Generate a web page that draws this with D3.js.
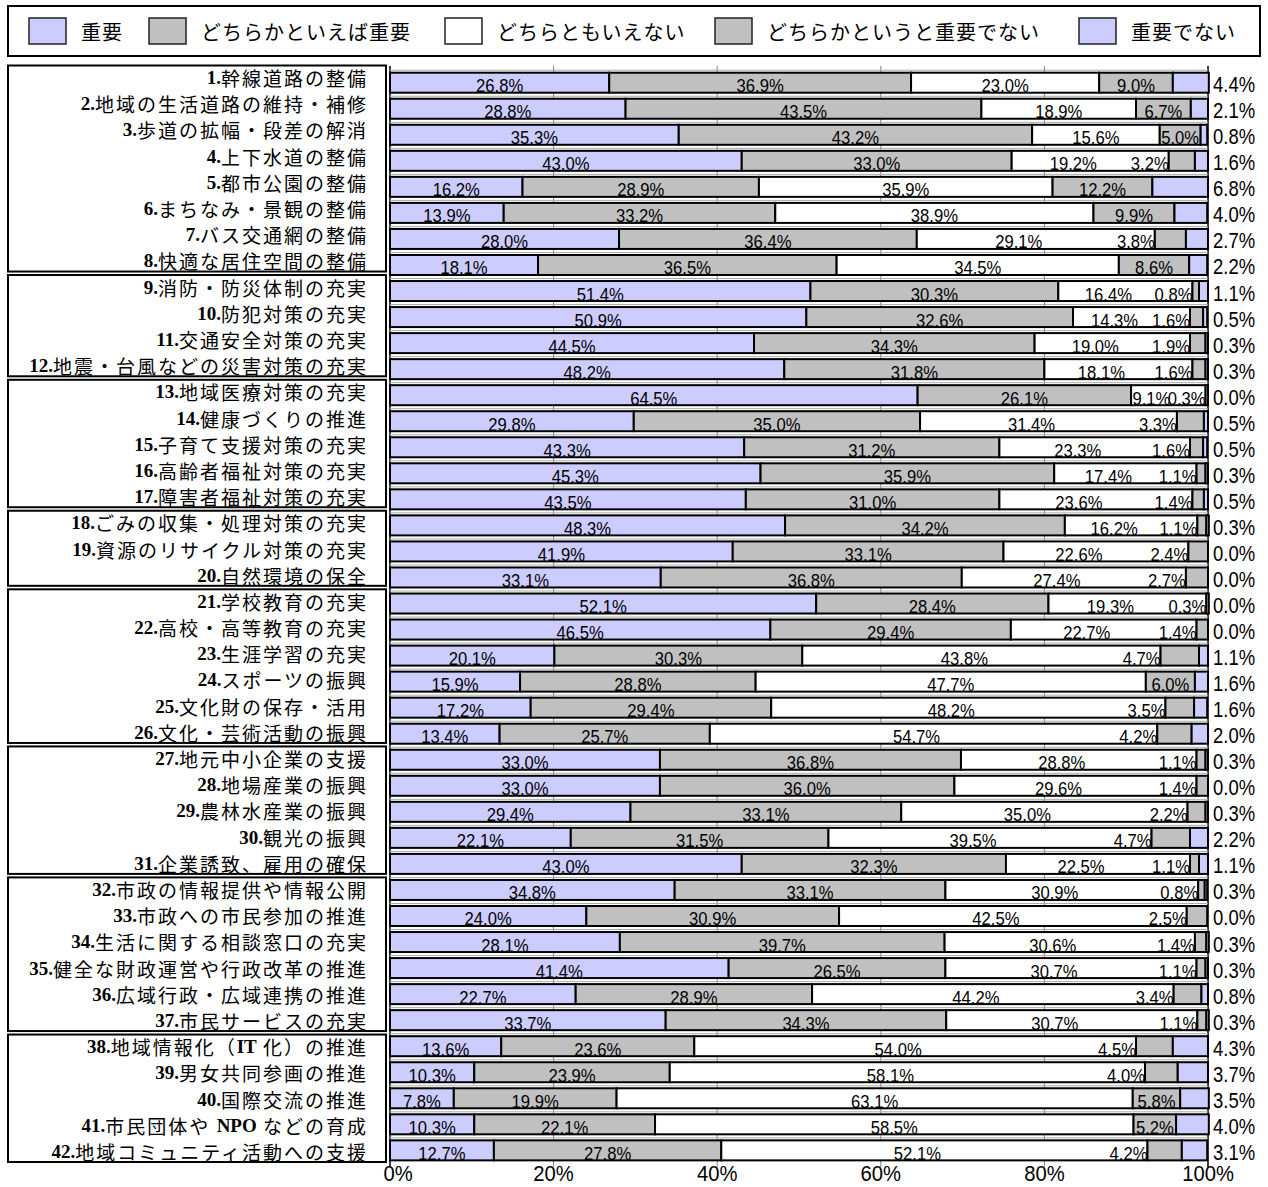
<!DOCTYPE html>
<html>
<head>
<meta charset="utf-8">
<script src="https://cdn.jsdelivr.net/npm/d3@7"></script>
<style>
body { margin: 0; background: #fff; }
svg { display: block; }
</style>
</head>
<body>
<div id="chart"></div>
<script>
// Items (row labels)
const categories = [
    '1.幹線道路の整備', '2.地域の生活道路の維持・補修', '3.歩道の拡幅・段差の解消', '4.上下水道の整備',
    '5.都市公園の整備', '6.まちなみ・景観の整備', '7.バス交通網の整備', '8.快適な居住空間の整備',
    '9.消防・防災体制の充実', '10.防犯対策の充実', '11.交通安全対策の充実', '12.地震・台風などの災害対策の充実',
    '13.地域医療対策の充実', '14.健康づくりの推進', '15.子育て支援対策の充実', '16.高齢者福祉対策の充実',
    '17.障害者福祉対策の充実', '18.ごみの収集・処理対策の充実', '19.資源のリサイクル対策の充実', '20.自然環境の保全',
    '21.学校教育の充実', '22.高校・高等教育の充実', '23.生涯学習の充実', '24.スポーツの振興',
    '25.文化財の保存・活用', '26.文化・芸術活動の振興', '27.地元中小企業の支援', '28.地場産業の振興',
    '29.農林水産業の振興', '30.観光の振興', '31.企業誘致、雇用の確保', '32.市政の情報提供や情報公開',
    '33.市政への市民参加の推進', '34.生活に関する相談窓口の充実', '35.健全な財政運営や行政改革の推進', '36.広域行政・広域連携の推進',
    '37.市民サービスの充実', '38.地域情報化（IT 化）の推進', '39.男女共同参画の推進', '40.国際交流の推進',
    '41.市民団体や NPO などの育成', '42.地域コミュニティ活動への支援'
];

// Series values (%)
const important = [26.8, 28.8, 35.3, 43.0, 16.2, 13.9, 28.0, 18.1, 51.4, 50.9, 44.5, 48.2, 64.5, 29.8,
    43.3, 45.3, 43.5, 48.3, 41.9, 33.1, 52.1, 46.5, 20.1, 15.9, 17.2, 13.4, 33.0, 33.0, 29.4, 22.1,
    43.0, 34.8, 24.0, 28.1, 41.4, 22.7, 33.7, 13.6, 10.3, 7.8, 10.3, 12.7];
const ratherImportant = [36.9, 43.5, 43.2, 33.0, 28.9, 33.2, 36.4, 36.5, 30.3, 32.6, 34.3, 31.8, 26.1, 35.0,
    31.2, 35.9, 31.0, 34.2, 33.1, 36.8, 28.4, 29.4, 30.3, 28.8, 29.4, 25.7, 36.8, 36.0, 33.1, 31.5,
    32.3, 33.1, 30.9, 39.7, 26.5, 28.9, 34.3, 23.6, 23.9, 19.9, 22.1, 27.8];
const neutral = [23.0, 18.9, 15.6, 19.2, 35.9, 38.9, 29.1, 34.5, 16.4, 14.3, 19.0, 18.1, 9.1, 31.4,
    23.3, 17.4, 23.6, 16.2, 22.6, 27.4, 19.3, 22.7, 43.8, 47.7, 48.2, 54.7, 28.8, 29.6, 35.0, 39.5,
    22.5, 30.9, 42.5, 30.6, 30.7, 44.2, 30.7, 54.0, 58.1, 63.1, 58.5, 52.1];
const ratherNotImportant = [9.0, 6.7, 5.0, 3.2, 12.2, 9.9, 3.8, 8.6, 0.8, 1.6, 1.9, 1.6, 0.3, 3.3,
    1.6, 1.1, 1.4, 1.1, 2.4, 2.7, 0.3, 1.4, 4.7, 6.0, 3.5, 4.2, 1.1, 1.4, 2.2, 4.7,
    1.1, 0.8, 2.5, 1.4, 1.1, 3.4, 1.1, 4.5, 4.0, 5.8, 5.2, 4.2];
const notImportant = [4.4, 2.1, 0.8, 1.6, 6.8, 4.0, 2.7, 2.2, 1.1, 0.5, 0.3, 0.3, 0.0, 0.5,
    0.5, 0.3, 0.5, 0.3, 0.0, 0.0, 0.0, 0.0, 1.1, 1.6, 1.6, 2.0, 0.3, 0.0, 0.3, 2.2,
    1.1, 0.3, 0.0, 0.3, 0.3, 0.8, 0.3, 4.3, 3.7, 3.5, 4.0, 3.1];

const seriesNames = ['重要', 'どちらかといえば重要', 'どちらともいえない', 'どちらかというと重要でない', '重要でない'];
const seriesColors = ['#ccccff', '#c0c0c0', '#ffffff', '#c0c0c0', '#ccccff'];
const groupSizes = [8, 4, 5, 3, 6, 5, 6, 5];
const tickValues = [0, 20, 40, 60, 80, 100];

const width = 1268, height = 1187;
const numFont = '"Liberation Sans Narrow", "Arial Narrow", "Liberation Sans", sans-serif';
const jpFont = '"Noto Sans CJK JP", sans-serif';
const serifFont = '"Liberation Serif", "DejaVu Serif", serif';

const svg = d3.select('#chart').append('svg')
    .attr('width', width)
    .attr('height', height);

const n = categories.length;
const x = d3.scaleLinear().domain([0, 100]).range([390, 1208]);
const y = d3.scaleBand().domain(d3.range(n)).range([69.7, 1163.4]);
const yLab = d3.scaleBand().domain(d3.range(n)).range([64, 1164]);
const barH = 20;

const series = [important, ratherImportant, neutral, ratherNotImportant, notImportant];
const rows = d3.range(n).map(i => {
    const r = { i: i };
    series.forEach((s, k) => { r[k] = s[i]; });
    return r;
});
const stacked = d3.stack().keys(d3.range(5))(rows);

// Legend
const legendX = [29, 149, 445, 715, 1079];
svg.append('rect')
    .attr('x', 8).attr('y', 6).attr('width', 1252).attr('height', 50)
    .style('fill', 'none').style('stroke', '#000').style('stroke-width', 2);
const legend = svg.append('g').selectAll('g')
    .data(seriesNames)
    .join('g')
    .attr('transform', (d, k) => `translate(${legendX[k]},18)`);
legend.append('rect')
    .attr('width', 37).attr('height', 26)
    .style('fill', (d, k) => seriesColors[k])
    .style('stroke', '#222').style('stroke-width', 1.5);
legend.append('text')
    .attr('x', 52).attr('y', 13)
    .attr('dominant-baseline', 'central')
    .style('font-family', jpFont).style('font-size', '20px').style('letter-spacing', '1px')
    .text(d => d);

// Group boxes on the left
let start = 0;
groupSizes.forEach(size => {
    const end = start + size - 1;
    svg.append('rect')
        .attr('x', 8)
        .attr('y', yLab(start) + 1.5)
        .attr('width', 378)
        .attr('height', yLab(end) + yLab.bandwidth() - 2 - (yLab(start) + 1.5))
        .style('fill', 'none').style('stroke', '#000').style('stroke-width', 2);
    start += size;
});

// Row labels (numbers / latin in bold serif, japanese in gothic)
const labels = svg.append('g').selectAll('text')
    .data(categories)
    .join('text')
    .attr('x', 368)
    .attr('y', (d, i) => yLab(i) + yLab.bandwidth() / 2)
    .attr('text-anchor', 'end')
    .attr('dominant-baseline', 'central')
    .style('font-size', '19px');
labels.each(function(d) {
    const t = d3.select(this);
    const parts = d.match(/[A-Za-z0-9.]+|[^A-Za-z0-9.]+/g);
    parts.forEach(p => {
        const ascii = /^[A-Za-z0-9.]+$/.test(p);
        t.append('tspan')
            .style('font-family', ascii ? serifFont : jpFont)
            .style('font-weight', ascii ? 'bold' : 'normal')
            .style('letter-spacing', ascii ? '0px' : '2px')
            .text(p);
    });
});

// Gridlines
const grid = svg.append('g');
grid.selectAll('line')
    .data(tickValues)
    .join('line')
    .attr('x1', d => x(d)).attr('x2', d => x(d))
    .attr('y1', 66).attr('y2', 1167)
    .style('stroke', d => (d === 0 || d === 100) ? '#000' : '#808080')
    .style('stroke-width', d => (d === 0 || d === 100) ? 1.5 : 1);

// thin shadow line above each bar
svg.append('g').selectAll('line')
    .data(d3.range(n))
    .join('line')
    .attr('x1', x(0)).attr('x2', x(100))
    .attr('y1', i => y(i) + 0.5).attr('y2', i => y(i) + 0.5)
    .style('stroke', '#aaa').style('stroke-width', 1);

// Bars
const layers = svg.append('g').selectAll('g')
    .data(stacked)
    .join('g')
    .style('fill', d => seriesColors[d.key]);
layers.selectAll('rect')
    .data(d => d)
    .join('rect')
    .attr('x', d => x(d[0]))
    .attr('y', d => y(d.data.i) + 3)
    .attr('width', d => Math.max(0, x(d[1]) - x(d[0])))
    .attr('height', barH)
    .style('stroke', '#000')
    .style('stroke-width', 2);

// Value labels
const valueLabels = [];
stacked.forEach(layer => {
    const k = layer.key;
    layer.forEach(d => {
        const i = d.data.i;
        const v = d.data[k];
        const base = y(i) + 3 + barH - 0.5;
        let lx, anchor = 'middle', size = 18.5, sx = 0.9;
        if (k === 4) {
            lx = 1213; anchor = 'start'; size = 22; sx = 0.84;
        } else if (k === 3) {
            if (v >= 5) lx = (x(d[0]) + x(d[1])) / 2;
            else { lx = x(d[0]); anchor = 'end'; }
        } else if (k === 2) {
            const next = d.data[3];
            lx = next >= 5 ? (x(d[0]) + x(d[1])) / 2 : (x(d[0]) + x(d[1]) - 34) / 2;
        } else {
            lx = (x(d[0]) + x(d[1])) / 2;
        }
        valueLabels.push({ x: lx, y: base, anchor: anchor, size: size, sx: sx, text: v.toFixed(1) + '%' });
    });
});
svg.append('g').selectAll('text')
    .data(valueLabels)
    .join('text')
    .attr('transform', d => `translate(${d.x},${d.y}) scale(${d.sx},1)`)
    .attr('text-anchor', d => d.anchor)
    .style('font-family', numFont)
    .style('font-size', d => d.size + 'px')
    .style('fill', '#000')
    .text(d => d.text);

// Axis tick labels
svg.append('g').selectAll('text')
    .data(tickValues)
    .join('text')
    .attr('transform', d => `translate(${x(d) + (d === 0 ? 8 : 0)},1181) scale(0.92,1)`)
    .attr('text-anchor', 'middle')
    .style('font-family', numFont)
    .style('font-size', '22px')
    .text(d => d + '%');
</script>
</body>
</html>
